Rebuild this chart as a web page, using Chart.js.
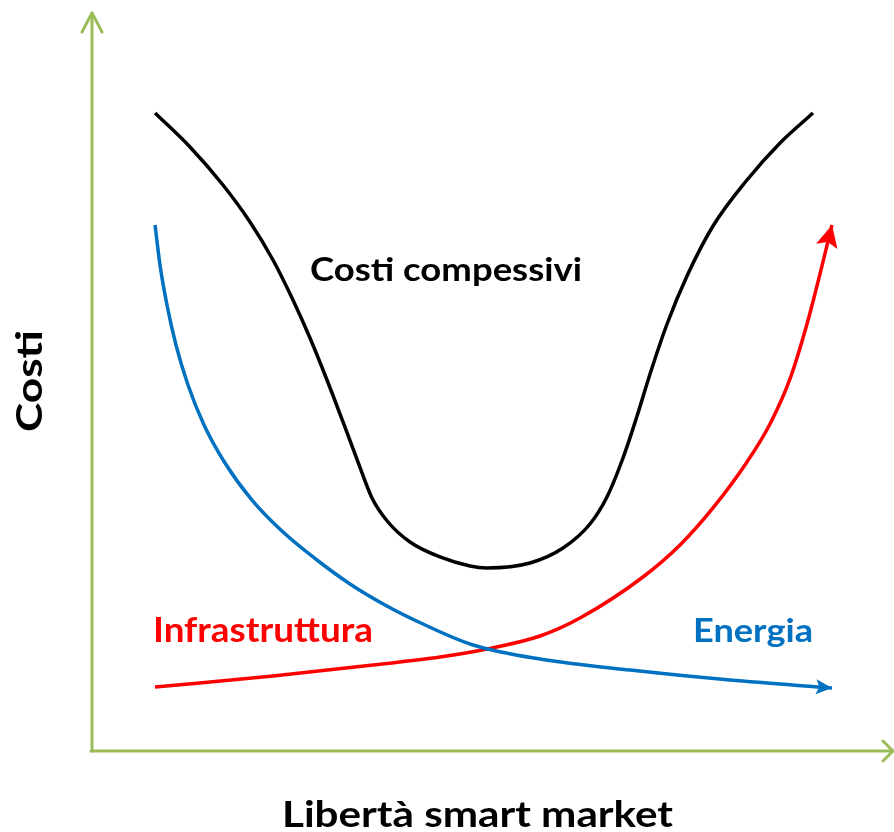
<!DOCTYPE html>
<html><head><meta charset="utf-8">
<script src="https://cdn.jsdelivr.net/npm/chart.js@4/dist/chart.umd.min.js"></script>
<style>html,body{margin:0;padding:0;background:#fff}</style>
</head><body>
<canvas id="c" width="894" height="832"></canvas>
<script>
// ---- data (x: libertà smart market, y: costi; arbitrary 0-100 units) ----
const totalX = [7.86,12.22,16.33,19.70,22.57,25.06,27.18,29.30,31.30,33.17,34.91,36.91,39.65,43.39,47.13,49.25,54.61,58.73,62.09,64.21,66.21,67.96,69.58,71.70,74.19,77.43,81.67,85.79,89.90];
const totalY = [86.67,82.04,76.87,71.84,66.67,61.22,56.05,50.34,44.63,39.18,34.29,31.02,28.30,26.26,25.03,24.76,25.44,27.48,30.75,34.42,39.73,45.44,51.16,57.96,64.49,71.29,77.55,82.59,86.67];
const energyX = [7.86,8.48,9.35,10.47,11.97,13.97,16.58,19.95,23.82,28.05,32.17,36.53,41.27,47.51,55.86,67.08,79.55,92.27];
const energyY = [71.43,65.99,60.54,55.10,49.66,44.22,39.05,34.01,29.66,25.85,22.59,19.73,17.14,14.29,12.38,10.88,9.52,8.44];
const infraX = [7.86,22.57,35.04,43.39,49.25,55.86,60.85,68.70,73.32,77.43,81.67,84.54,87.03,89.15,90.77,92.27];
const infraY = [8.57,10.07,11.56,12.65,13.74,15.51,17.96,23.54,27.89,32.93,39.18,44.35,50.48,57.96,64.76,71.43];

const seriesNames = ["Costi compessivi","Energia","Infrastruttura"];
const xTitle = "Libertà smart market";
const yTitle = "Costi";

const GREEN = "#9BBB59", RED = "#FF0000", BLUE = "#0070C0", BLACK = "#000000";
const FONT = "Lato";

const pts = (xs, ys) => xs.map((x, i) => ({x, y: ys[i]}));

function fitText(ctx, text, size, targetW) {
  ctx.font = `bold ${size}px ${FONT}`;
  const w = ctx.measureText(text).width;
  return targetW / w;
}
function drawLabel(ctx, text, color, left, baseline, size, targetW) {
  ctx.save();
  const sx = fitText(ctx, text, size, targetW);
  ctx.translate(left, baseline);
  ctx.scale(sx, 1);
  ctx.fillStyle = color;
  ctx.textAlign = "left";
  ctx.textBaseline = "alphabetic";
  ctx.fillText(text, 0, 0);
  ctx.restore();
}

const decor = {
  id: "decor",
  afterDatasetsDraw(chart) {
    const ctx = chart.ctx;
    const xs = chart.scales.x, ys = chart.scales.y;
    const x0 = xs.getPixelForValue(0), y0 = ys.getPixelForValue(0);
    const yTop = ys.getPixelForValue(100) - 2;
    const xEnd = xs.getPixelForValue(100) - 1;
    // axes
    ctx.save();
    ctx.strokeStyle = GREEN; ctx.lineWidth = 3; ctx.lineCap = "round"; ctx.lineJoin = "round";
    ctx.beginPath(); ctx.moveTo(x0, y0 + 1); ctx.lineTo(x0, yTop); ctx.stroke();
    ctx.beginPath(); ctx.moveTo(x0 - 1, y0 + 1); ctx.lineTo(xEnd, y0 + 1); ctx.stroke();
    ctx.beginPath(); ctx.moveTo(x0 - 10, yTop + 19); ctx.lineTo(x0, yTop); ctx.lineTo(x0 + 10, yTop + 19); ctx.stroke();
    ctx.beginPath(); ctx.moveTo(xEnd - 10, y0 + 1 - 10); ctx.lineTo(xEnd, y0 + 1); ctx.lineTo(xEnd - 10, y0 + 11); ctx.stroke();
    ctx.restore();
    // arrowheads on series
    chart.data.datasets.forEach((ds, i) => {
      if (!ds.arrow) return;
      const meta = chart.getDatasetMeta(i);
      const pts = meta.data;
      const tip = pts[pts.length - 1];
      const prev = pts[pts.length - 2];
      let dx = tip.x - (tip.cp1x ?? prev.x), dy = tip.y - (tip.cp1y ?? prev.y);
      if (Math.hypot(dx, dy) < 0.5) { dx = tip.x - prev.x; dy = tip.y - prev.y; }
      const L = Math.hypot(dx, dy); dx /= L; dy /= L;
      const len = ds.arrow.len, hw = ds.arrow.hw;
      const bx = tip.x - dx * len, by = tip.y - dy * len;
      const nx = -dy, ny = dx;
      ctx.save();
      ctx.fillStyle = ds.borderColor;
      ctx.beginPath();
      ctx.moveTo(tip.x, tip.y);
      ctx.lineTo(bx + nx * hw, by + ny * hw);
      ctx.lineTo(tip.x - dx * len * 0.8, tip.y - dy * len * 0.8);
      ctx.lineTo(bx - nx * hw, by - ny * hw);
      ctx.closePath();
      ctx.fill();
      ctx.restore();
    });
    // texts
    drawLabel(ctx, seriesNames[0], BLACK, 310, 281, 32, 272);
    drawLabel(ctx, seriesNames[2], RED, 153, 641.5, 33.5, 220);
    drawLabel(ctx, seriesNames[1], BLUE, 693, 641.5, 32, 120);
    drawLabel(ctx, xTitle, BLACK, 282, 826.5, 36, 391);
    ctx.save();
    ctx.translate(42, 432);
    ctx.rotate(-Math.PI / 2);
    const sx = fitText(ctx, yTitle, 36, 102);
    ctx.scale(sx, 1);
    ctx.fillStyle = BLACK; ctx.textBaseline = "alphabetic"; ctx.textAlign = "left";
    ctx.fillText(yTitle, 0, 0);
    ctx.restore();
  }
};

new Chart(document.getElementById("c"), {
  type: "line",
  data: {
    datasets: [
      { label: seriesNames[0], data: pts(totalX, totalY), borderColor: BLACK, borderWidth: 3.5 },
      { label: seriesNames[1], data: pts(energyX, energyY), borderColor: BLUE, borderWidth: 3.5, arrow: {len: 16, hw: 7.5} },
      { label: seriesNames[2], data: pts(infraX, infraY), borderColor: RED, borderWidth: 3.5, arrow: {len: 22, hw: 11} }
    ]
  },
  options: {
    responsive: false,
    animation: false,
    devicePixelRatio: 1,
    layout: { padding: { left: 92, right: 0, top: 15, bottom: 82 } },
    elements: { point: { radius: 0 }, line: { cubicInterpolationMode: "monotone", fill: false, borderCapStyle: "butt" } },
    plugins: { legend: { display: false }, tooltip: { enabled: false }, title: { display: false } },
    scales: {
      x: { type: "linear", min: 0, max: 100, display: false },
      y: { type: "linear", min: 0, max: 100, display: false }
    }
  },
  plugins: [decor]
});
</script>
</body></html>
